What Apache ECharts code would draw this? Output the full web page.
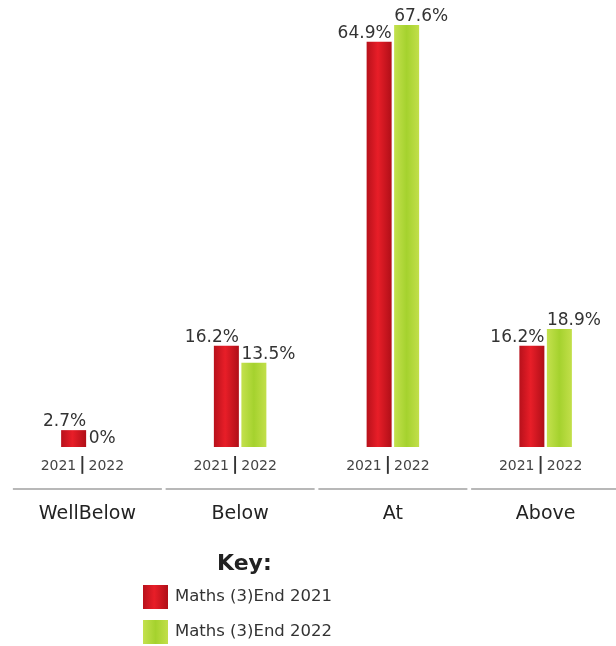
<!DOCTYPE html>
<html>
<head>
<meta charset="utf-8">
<script src="https://cdn.jsdelivr.net/npm/echarts@6/dist/echarts.min.js"></script>
<style>
  html, body { margin: 0; padding: 0; background: #fff; overflow: hidden; }
  #chart { width: 624px; height: 646px; }
</style>
</head>
<body>
<div id="chart"></div>
<script>
// Attainment bands and the share of pupils in each, by year
const categories = ['WellBelow', 'Below', 'At', 'Above'];
const yearLabels = ['2021', '2022'];
const seriesNames = ['Maths (3)End 2021', 'Maths (3)End 2022'];
const values2021 = [2.7, 16.2, 64.9, 16.2];
const values2022 = [0, 13.5, 67.6, 18.9];

const FONT = '"DejaVu Sans", Verdana, sans-serif';

const redFill = {
  type: 'linear', x: 0, y: 0, x2: 1, y2: 0,
  colorStops: [
    { offset: 0, color: '#b8111b' },
    { offset: 0.45, color: '#e81e28' },
    { offset: 1, color: '#b00f18' }
  ]
};
const greenFill = {
  type: 'linear', x: 0, y: 0, x2: 1, y2: 0,
  colorStops: [
    { offset: 0, color: '#c4e14e' },
    { offset: 0.5, color: '#a5d22e' },
    { offset: 1, color: '#c2df4a' }
  ]
};

const valueLabel = {
  show: true,
  fontFamily: FONT,
  fontSize: 17,
  color: '#333',
  verticalAlign: 'bottom',
  offset: [0, 0],
  formatter: p => p.value + '%'
};

// One key entry per legend block so the entries stack vertically
const legendEntry = (name, top) => ({
  left: 143,
  top: top,
  padding: 0,
  itemWidth: 25,
  itemHeight: 24,
  itemGap: 0,
  icon: 'rect',
  data: [name],
  textStyle: { fontFamily: FONT, fontSize: 16.5, color: '#333', padding: [0, 0, 0, 2] }
});

const chart = echarts.init(document.getElementById('chart'), null, { renderer: 'canvas' });

chart.setOption({
  animation: false,
  backgroundColor: '#fff',
  textStyle: { fontFamily: FONT },
  title: {
    text: 'Key:',
    left: 217,
    top: 553,
    padding: 0,
    textStyle: { fontFamily: FONT, fontSize: 22, fontWeight: 'bold', color: '#222' }
  },
  legend: [
    legendEntry(seriesNames[0], 585),
    legendEntry(seriesNames[1], 620)
  ],
  grid: { left: 11, right: 2, top: 10, bottom: 199, containLabel: false },
  xAxis: {
    type: 'category',
    data: categories,
    axisLine: { show: false },
    axisTick: { show: false },
    axisLabel: {
      margin: 7,
      interval: 0,
      formatter: name =>
        '{yr|' + yearLabels[0] + '}{sep||}{yrr|' + yearLabels[1] + '}\n{ln| }\n{cat|' + name + '}',
      rich: {
        yr: { fontFamily: FONT, fontSize: 14, color: '#444', lineHeight: 24 },
        yrr: { fontFamily: FONT, fontSize: 14, color: '#444', lineHeight: 24, padding: [0, 10, 0, 0] },
        sep: { fontFamily: FONT, fontSize: 17, fontWeight: 'bold', color: '#333', lineHeight: 24, padding: [0, 3, 0, 3] },
        ln: { width: 149, height: 2, backgroundColor: '#b8b8b8', lineHeight: 22, fontSize: 1 },
        cat: { fontFamily: FONT, fontSize: 19, color: '#222', lineHeight: 28 }
      }
    }
  },
  yAxis: {
    type: 'value',
    min: 0,
    max: 70,
    show: false,
    splitLine: { show: false }
  },
  series: [
    {
      name: seriesNames[0],
      type: 'bar',
      data: values2021,
      barWidth: 25,
      barGap: '10%',
      itemStyle: { color: redFill },
      label: Object.assign({}, valueLabel, { position: ['100%', 0], align: 'right' })
    },
    {
      name: seriesNames[1],
      type: 'bar',
      data: values2022,
      barWidth: 25,
      itemStyle: { color: greenFill },
      label: Object.assign({}, valueLabel, { position: [0, 0], align: 'left' })
    }
  ]
});
</script>
</body>
</html>
